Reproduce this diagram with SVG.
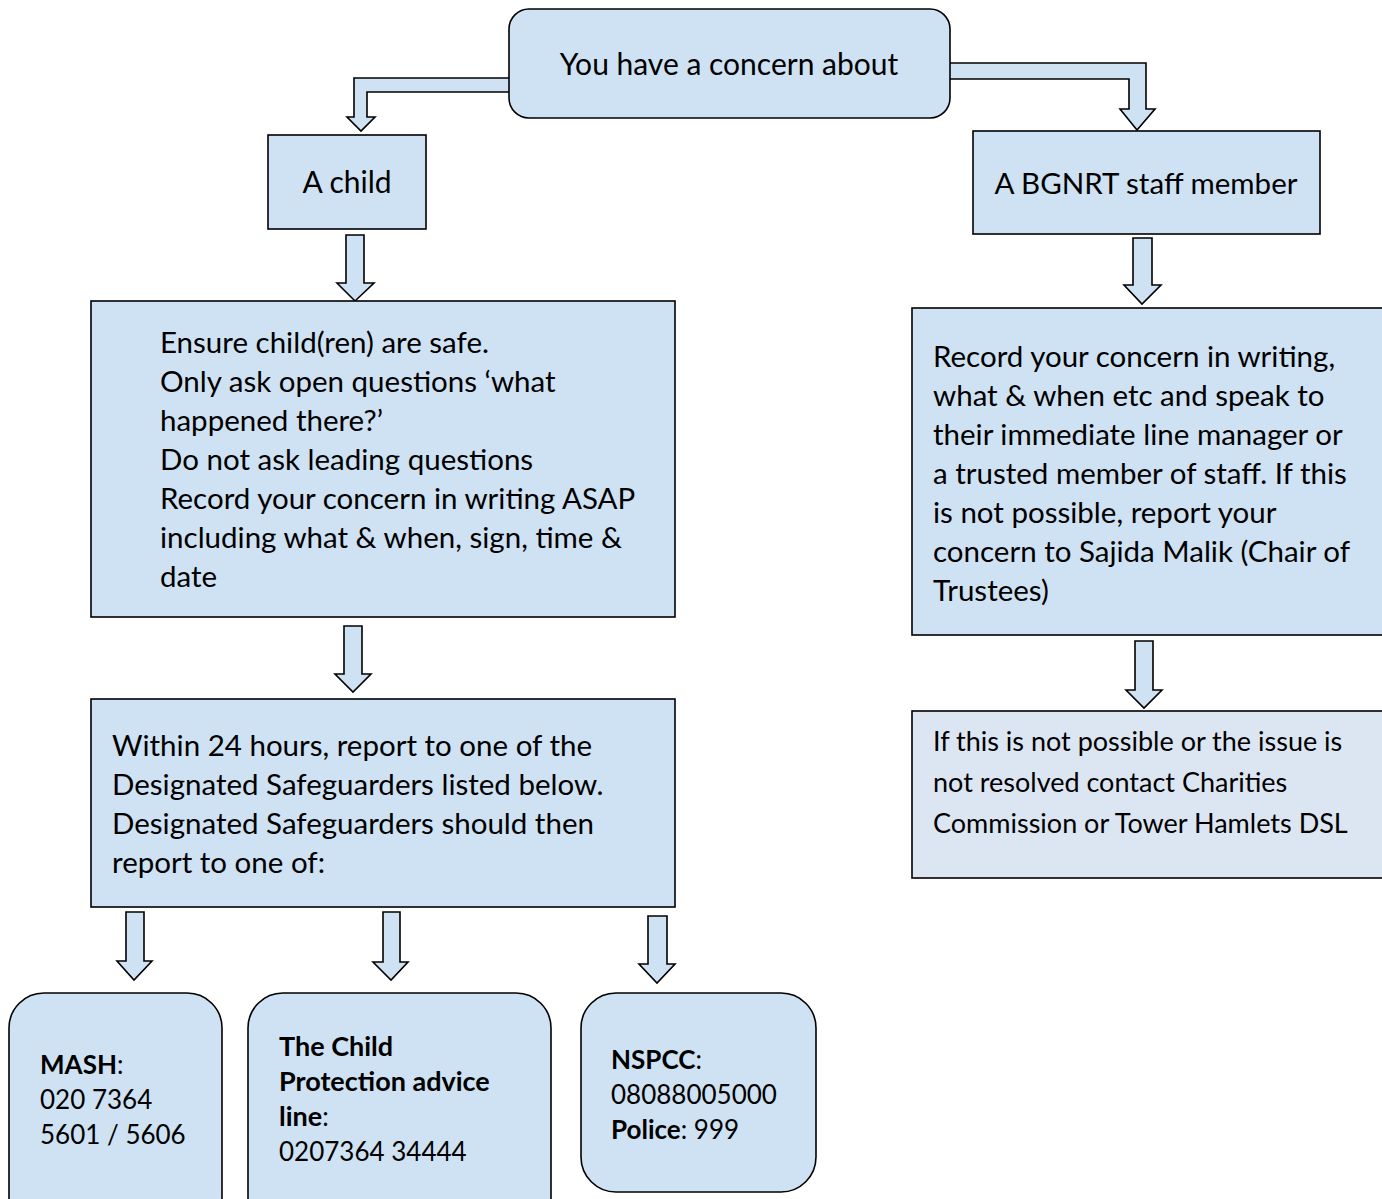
<svg xmlns="http://www.w3.org/2000/svg" width="1382" height="1199" viewBox="0 0 1382 1199">
<style>
.box{fill:#cfe2f3;stroke:#000;stroke-width:1.6}
.box2{fill:#dce6f2;stroke:#000;stroke-width:1.6}
.arr{fill:#cfe2f3;stroke:#000;stroke-width:1.6;stroke-linejoin:miter}
text{font-family:Lato,"Liberation Sans",sans-serif;fill:#000}
.t{font-size:29.5px}
.h{font-size:30px}
.s{font-size:27px}
.c{font-size:26px}
.b{font-weight:bold}
</style>
<rect width="1382" height="1199" fill="#fff"/>
<g id="connectors">
<polygon class="arr" points="512,78 354,78 354,117 347,117 361,131 375,117 367,117 367,92 512,92"/>
<polygon class="arr" points="946,63 1146,63 1146,109 1155,109 1137,130 1120,109 1129,109 1129,79 946,79"/>
<polygon class="arr" points="346,235 364,235 364,283 374,283 355,301 337,283 346,283"/>
<polygon class="arr" points="344,626 362,626 362,674 371,674 353,692 335,674 344,674"/>
<polygon class="arr" points="1133,238 1152,238 1152,285 1161,285 1142,304 1124,285 1133,285"/>
<polygon class="arr" points="1135,641 1153,641 1153,690 1162,690 1144,708 1126,690 1135,690"/>
<polygon class="arr" points="126,912 144,912 144,961 152,961 134,980 117,961 126,961"/>
<polygon class="arr" points="383,912 400,912 400,962 408,962 391,980 373,962 383,962"/>
<polygon class="arr" points="648,916 667,916 667,964 675,964 657,983 639,964 648,964"/>
</g>
<g id="top">
<rect class="box" x="509" y="9" width="441" height="109" rx="20"/>
<text class="h" x="729" y="75" text-anchor="middle">You have a concern about</text>
</g>
<g id="child">
<rect class="box" x="268" y="135" width="158" height="94"/>
<text class="h" x="347" y="193" text-anchor="middle">A child</text>
</g>
<g id="staff">
<rect class="box" x="973" y="131" width="347" height="103"/>
<text class="t" x="1146" y="194" text-anchor="middle">A BGNRT staff member</text>
</g>
<g id="child-steps">
<rect class="box" x="91" y="301" width="584" height="316"/>
<text class="t" x="160" y="353">Ensure child(ren) are safe.</text>
<text class="t" x="160" y="392">Only ask open questions ‘what</text>
<text class="t" x="160" y="431">happened there?’</text>
<text class="t" x="160" y="470">Do not ask leading questions</text>
<text class="t" x="160" y="509">Record your concern in writing ASAP</text>
<text class="t" x="160" y="548">including what &amp; when, sign, time &amp;</text>
<text class="t" x="160" y="587">date</text>
</g>
<g id="report">
<rect class="box" x="91" y="699" width="584" height="208"/>
<text class="t" x="112" y="756">Within 24 hours, report to one of the</text>
<text class="t" x="112" y="795">Designated Safeguarders listed below.</text>
<text class="t" x="112" y="834">Designated Safeguarders should then</text>
<text class="t" x="112" y="873">report to one of:</text>
</g>
<g id="staff-steps">
<rect class="box" x="912" y="308" width="480" height="327"/>
<text class="t" x="933" y="367">Record your concern in writing,</text>
<text class="t" x="933" y="406">what &amp; when etc and speak to</text>
<text class="t" x="933" y="445">their immediate line manager or</text>
<text class="t" x="933" y="484">a trusted member of staff. If this</text>
<text class="t" x="933" y="523">is not possible, report your</text>
<text class="t" x="933" y="562">concern to Sajida Malik (Chair of</text>
<text class="t" x="933" y="601">Trustees)</text>
</g>
<g id="escalate">
<rect class="box2" x="912" y="711" width="480" height="167"/>
<text class="s" x="933" y="751">If this is not possible or the issue is</text>
<text class="s" x="933" y="792">not resolved contact Charities</text>
<text class="s" x="933" y="833">Commission or Tower Hamlets DSL</text>
</g>
<g id="mash">
<rect class="box" x="9" y="993" width="213" height="240" rx="35"/>
<text class="c" x="40" y="1074"><tspan class="b">MASH</tspan>:</text>
<text class="c" x="40" y="1109">020 7364</text>
<text class="c" x="40" y="1144">5601 / 5606</text>
</g>
<g id="cp-line">
<rect class="box" x="248" y="993" width="303" height="240" rx="35"/>
<text class="c b" x="279" y="1056" style="font-size:27px">The Child</text>
<text class="c b" x="279" y="1091" style="font-size:27px">Protection advice</text>
<text class="c" x="279" y="1126"><tspan class="b" style="font-size:27px">line</tspan>:</text>
<text class="c" x="279" y="1161">0207364 34444</text>
</g>
<g id="nspcc">
<rect class="box" x="581" y="993" width="235" height="199" rx="35"/>
<text class="c" x="611" y="1069"><tspan class="b">NSPCC</tspan>:</text>
<text class="c" x="611" y="1104">08088005000</text>
<text class="c" x="611" y="1139"><tspan class="b">Police</tspan>: 999</text>
</g>
</svg>
